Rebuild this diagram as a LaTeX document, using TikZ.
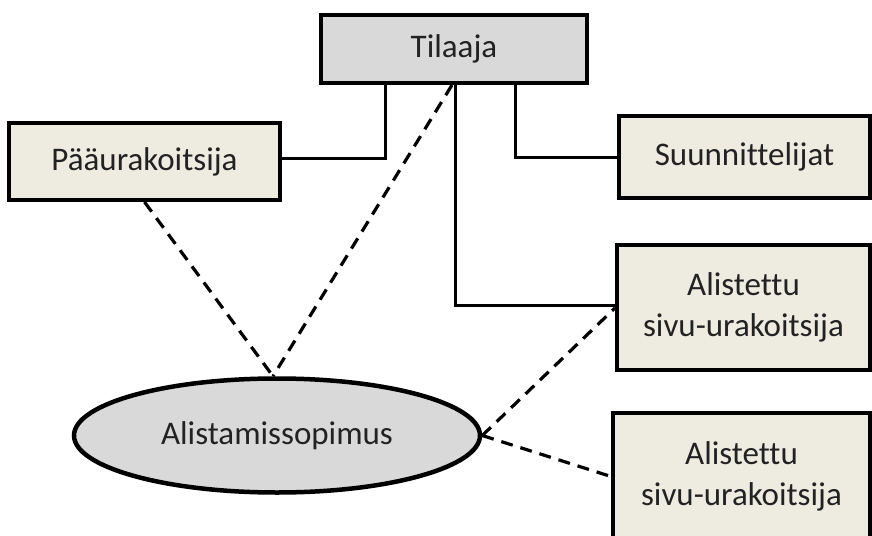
\documentclass[tikz,border=0pt]{standalone}
\usepackage{fontspec}
\setmainfont[Ligatures=NoCommon]{Carlito}
\usetikzlibrary{shapes.geometric}
\definecolor{beige}{HTML}{EEECE1}
\definecolor{lgray}{HTML}{D9D9D9}
\definecolor{txt}{HTML}{222222}
\begin{document}
\begin{tikzpicture}[x=1pt,y=-1pt,
  box/.style={draw=black, line width=4pt, fill=beige, inner sep=0pt, font=\fontsize{33}{41}\selectfont, text=txt, align=center},
  topbox/.style={box, fill=lgray},
  ellbox/.style={ellipse, draw=black, line width=4.5pt, fill=lgray, inner sep=0pt, font=\fontsize{33}{41}\selectfont, text=txt},
  conn/.style={draw=black, line width=3pt},
  dconn/.style={draw=black, line width=3.2pt, dash pattern=on 12pt off 8pt}]
\useasboundingbox (0,0) rectangle (872,535);
\node[topbox, minimum width=266pt, minimum height=68pt] (til) at (454,49) {Tilaaja};
\node[box, minimum width=271pt, minimum height=77pt] (pau) at (144.5,161.5) {Pääurakoitsija};
\node[box, minimum width=251pt, minimum height=82pt] (suu) at (744.5,157) {Suunnittelijat};
\node[box, minimum width=253pt, minimum height=125pt] (ali1) at (743.5,307.5) {Alistettu\\sivu-urakoitsija};
\node[box, minimum width=257pt, minimum height=127pt] (ali2) at (741.5,476.5) {Alistettu\\sivu-urakoitsija};
\node[ellbox, minimum width=406pt, minimum height=114pt] (ell) at (277,435.5) {Alistamissopimus};
\draw[conn] ([xshift=-69pt]til.south) |- ([yshift=3.5pt]pau.east);
\draw[conn] ([xshift=61pt]til.south) |- (suu.west);
\draw[conn] ([xshift=1pt]til.south) |- ([yshift=2.5pt]ali1.west);
\draw[dconn] (pau.south) -- ([xshift=-4pt]ell.north);
\draw[dconn] ([xshift=-2pt]til.south) -- ([xshift=-4pt]ell.north);
\draw[dconn] (ell.east) -- ([yshift=-0.5pt]ali1.west);
\draw[dconn] (ell.east) -- (ali2.west);
\end{tikzpicture}
\end{document}
